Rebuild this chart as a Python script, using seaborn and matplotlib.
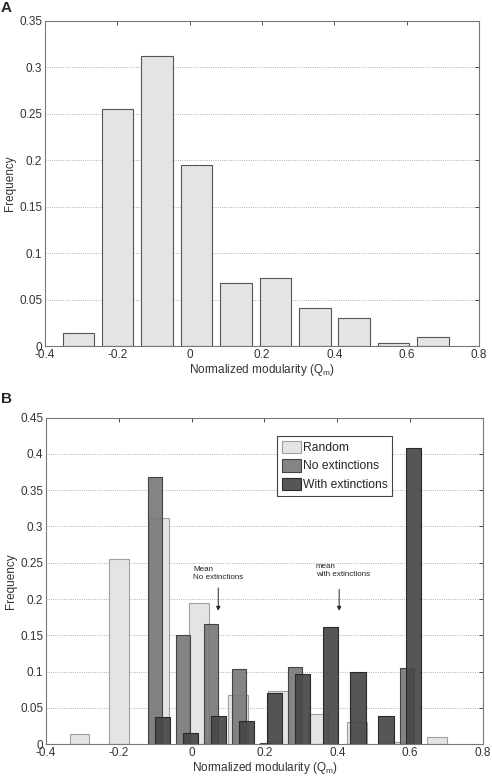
import numpy as np
import pandas as pd
import matplotlib
matplotlib.use("Agg")
import matplotlib.pyplot as plt
import seaborn as sns
from matplotlib.ticker import FuncFormatter

# values
qm_random = [-0.308, -0.199, -0.090, 0.019, 0.128, 0.237, 0.346, 0.455, 0.564, 0.673]
freq_random = [0.014, 0.255, 0.312, 0.195, 0.068, 0.073, 0.041, 0.030, 0.003, 0.010]

qm_noext = [-0.100, -0.023, 0.054, 0.130, 0.207, 0.283, 0.360, 0.437, 0.513, 0.590]
freq_noext = [0.368, 0.150, 0.165, 0.104, 0.002, 0.106, 0.0, 0.0, 0.0, 0.105]

qm_ext = [-0.079, -0.003, 0.074, 0.151, 0.227, 0.304, 0.381, 0.457, 0.534, 0.610]
freq_ext = [0.037, 0.015, 0.039, 0.032, 0.071, 0.097, 0.162, 0.099, 0.039, 0.408]

xticks = [-0.4, -0.2, 0, 0.2, 0.4, 0.6, 0.8]
yticks_a = [0, 0.05, 0.1, 0.15, 0.2, 0.25, 0.3, 0.35]
yticks_b = [0, 0.05, 0.1, 0.15, 0.2, 0.25, 0.3, 0.35, 0.4, 0.45]

sns.set_theme(style="white")
plt.rcParams['font.family'] = ['Liberation Sans', 'DejaVu Sans']
plt.rcParams['axes.unicode_minus'] = False


def edges(centers):
    # bin edges half a step either side of each centre
    c = np.asarray(centers)
    step = np.diff(c).mean()
    return np.append(c - step / 2, c[-1] + step / 2).tolist()


def hist(ax, centers, freqs, shrink, face, edge, alpha=1.0, label=None):
    df = pd.DataFrame({"qm": centers, "freq": freqs})
    sns.histplot(data=df, x="qm", weights="freq", bins=edges(centers), shrink=shrink,
                 stat="count", color=face, edgecolor=edge, linewidth=0.8,
                 alpha=alpha, ax=ax, label=label)


def matlab_axes(ax, yticks):
    ax.set_xlim(-0.4, 0.8)
    ax.set_ylim(0, yticks[-1])
    ax.set_xticks(xticks)
    ax.set_yticks(yticks)
    fmt = FuncFormatter(lambda v, p: "%g" % round(v, 3))
    ax.xaxis.set_major_formatter(fmt)
    ax.yaxis.set_major_formatter(fmt)
    ax.tick_params(direction="in", top=True, right=True, length=3, width=0.6,
                   labelsize=8.5, colors="#333333", pad=2)
    ax.yaxis.grid(True, linestyle=":", color="#999999", linewidth=0.6)
    ax.set_axisbelow(True)
    for s in ax.spines.values():
        s.set_color("#777777")
        s.set_linewidth(0.8)
    ax.set_xlabel("Normalized modularity (Q$_\\mathregular{m}$)", fontsize=8.5,
                  color="#333333", labelpad=1)
    ax.set_ylabel("Frequency", fontsize=8.5, color="#333333", labelpad=2)


fig = plt.figure(figsize=(4.92, 7.76), dpi=100)
ax_a = fig.add_axes([0.0915, 0.554, 0.882, 0.419])
ax_b = fig.add_axes([0.0935, 0.0412, 0.8882, 0.4205])

# panel A
hist(ax_a, qm_random, freq_random, 0.8, "#e4e4e4", "#555555")
matlab_axes(ax_a, yticks_a)

# panel B
hist(ax_b, qm_random, freq_random, 0.5, "#e4e4e4", "#a0a0a0", label="Random")
hist(ax_b, qm_noext, freq_noext, 0.5, "#777777", "#444444", alpha=0.9, label="No extinctions")
hist(ax_b, qm_ext, freq_ext, 0.55, "#474747", "#2a2a2a", alpha=0.92, label="With extinctions")
matlab_axes(ax_b, yticks_b)

leg = ax_b.legend(loc="upper left", bbox_to_anchor=(0.529, 0.945), fontsize=8.7,
                  fancybox=False, framealpha=1, edgecolor="#444444",
                  handlelength=1.55, handleheight=1.2, handletextpad=0.15,
                  borderpad=0.4, labelspacing=0.45, borderaxespad=0)
leg.get_frame().set_linewidth(0.8)

ax_b.text(0.004, 0.246, "Mean\nNo extinctions", fontsize=5.8, va="top", ha="left",
          color="#222222", linespacing=1.2)
ax_b.annotate("", xy=(0.073, 0.180), xytext=(0.073, 0.219),
              arrowprops=dict(arrowstyle="-|>", color="#222222", lw=0.7,
                              mutation_scale=6))
ax_b.text(0.341, 0.250, "mean\nwith extinctions", fontsize=5.8, va="top", ha="left",
          color="#222222", linespacing=1.2)
ax_b.annotate("", xy=(0.405, 0.180), xytext=(0.405, 0.217),
              arrowprops=dict(arrowstyle="-|>", color="#222222", lw=0.7,
                              mutation_scale=6))

fig.text(0.002, 0.999, "A", fontsize=11, fontweight="bold", va="top", ha="left")
fig.text(0.002, 0.495, "B", fontsize=11, fontweight="bold", va="top", ha="left")

fig.savefig("out.png", dpi=100)
